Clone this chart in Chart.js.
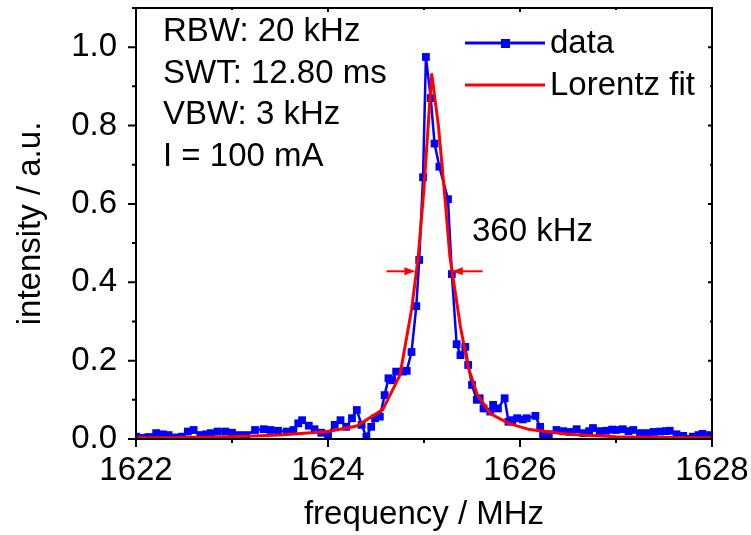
<!DOCTYPE html>
<html>
<head>
<meta charset="utf-8">
<script src="https://cdn.jsdelivr.net/npm/chart.js@4.4.1/dist/chart.umd.min.js"></script>
<style>
html,body{margin:0;padding:0;background:#fff;}
#wrap{width:751px;height:535px;}
</style>
</head>
<body>
<div id="wrap"><canvas id="c" width="751" height="535"></canvas></div>
<script>
// ---- data ----
const dataFreq = [1622.00,1622.06,1622.13,1622.21,1622.28,1622.34,1622.42,1622.48,1622.54,1622.60,
  1622.67,1622.73,1622.78,1622.85,1622.93,1623.00,1623.08,1623.15,1623.24,1623.33,
  1623.40,1623.48,1623.57,1623.64,1623.69,1623.73,1623.80,1623.86,1623.93,1624.00,
  1624.07,1624.13,1624.19,1624.25,1624.30,1624.35,1624.40,1624.45,1624.49,1624.54,
  1624.59,1624.63,1624.67,1624.71,1624.78,1624.82,1624.87,1624.92,1624.95,1624.99,
  1625.02,1625.07,1625.11,1625.16,1625.25,1625.29,1625.34,1625.38,1625.43,1625.46,
  1625.50,1625.55,1625.58,1625.62,1625.69,1625.72,1625.77,1625.84,1625.88,1625.92,
  1625.97,1626.03,1626.07,1626.16,1626.21,1626.24,1626.30,1626.38,1626.45,1626.52,
  1626.59,1626.66,1626.72,1626.76,1626.83,1626.90,1626.96,1627.00,1627.07,1627.13,
  1627.18,1627.25,1627.32,1627.39,1627.46,1627.52,1627.56,1627.63,1627.70,1627.80,
  1627.86,1627.90,1627.98];
const dataInt = [0.006,0.003,0.005,0.015,0.012,0.010,0.004,0.006,0.019,0.023,
  0.010,0.012,0.015,0.019,0.019,0.016,0.010,0.010,0.023,0.025,
  0.023,0.021,0.019,0.023,0.040,0.048,0.034,0.025,0.016,0.012,
  0.036,0.048,0.031,0.053,0.074,0.036,0.006,0.031,0.053,0.057,
  0.112,0.155,0.150,0.172,0.172,0.174,0.222,0.339,0.457,0.668,
  0.975,0.870,0.754,0.695,0.612,0.421,0.242,0.214,0.235,0.189,
  0.138,0.100,0.104,0.078,0.070,0.087,0.078,0.104,0.044,0.048,
  0.053,0.050,0.053,0.059,0.031,0.010,0.012,0.023,0.020,0.018,
  0.025,0.015,0.020,0.028,0.020,0.021,0.024,0.023,0.025,0.020,
  0.023,0.015,0.015,0.018,0.019,0.020,0.021,0.012,0.008,0.006,
  0.010,0.013,0.010];
const fitFreq = [1622,1622.5,1623,1623.5,1624,1624.3,1624.57,1624.75,1624.87,1624.94,1625.0,1625.08,
  1625.15,1625.22,1625.27,1625.38,1625.46,1625.55,1625.69,1625.88,1626.1,1626.5,1627,1627.5,1628];
const fitInt = [0.003,0.004,0.006,0.010,0.019,0.033,0.075,0.163,0.330,0.465,0.640,0.933,
  0.800,0.610,0.465,0.286,0.184,0.116,0.065,0.040,0.024,0.012,0.006,0.004,0.003];
const xTickLabels = [1622,1624,1626,1628];
const yTickLabels = [0.0,0.2,0.4,0.6,0.8,1.0];
const infoLines = ['RBW: 20 kHz','SWT: 12.80 ms','VBW: 3 kHz','I = 100 mA'];
const widthLabel = '360 kHz';
const fwhmLevel = 0.428;
const leftArrow = [1624.61, 1624.91];
const rightArrow = [1625.61, 1625.29];

const FONT = 'Liberation Sans, Arial, sans-serif';
const BLUE = '#0000ff', RED = '#ff0000';

const decor = {
  id: 'decor',
  afterDraw(chart) {
    const {ctx, chartArea: a, scales: {x, y}} = chart;
    ctx.save();
    ctx.strokeStyle = '#000';
    ctx.lineWidth = 2;
    // frame
    ctx.strokeRect(a.left, a.top, a.right - a.left, a.bottom - a.top);
    // x ticks
    for (let v = 1622; v <= 1628; v++) {
      const px = x.getPixelForValue(v);
      const major = v % 2 === 0;
      ctx.beginPath();
      ctx.moveTo(px, a.bottom); ctx.lineTo(px, a.bottom + (major ? 8 : 4));
      ctx.moveTo(px, a.top); ctx.lineTo(px, a.top + (major ? 4 : 2));
      ctx.stroke();
    }
    for (let i = 0; i <= 11; i++) {
      const v = i / 10;
      const py = y.getPixelForValue(v);
      const major = i % 2 === 0;
      ctx.beginPath();
      ctx.moveTo(a.left, py); ctx.lineTo(a.left - (major ? 8 : 4), py);
      ctx.moveTo(a.right, py); ctx.lineTo(a.right - (major ? 4 : 2), py);
      ctx.stroke();
    }
    // info text
    ctx.fillStyle = '#000';
    ctx.font = '33px ' + FONT;
    ctx.textBaseline = 'middle';
    ctx.textAlign = 'left';
    infoLines.forEach((t, i) => ctx.fillText(t, 163, 32 + i * 41.5));
    // legend
    ctx.lineWidth = 3;
    ctx.strokeStyle = BLUE;
    ctx.beginPath(); ctx.moveTo(465, 43); ctx.lineTo(545, 43); ctx.stroke();
    ctx.fillStyle = BLUE;
    ctx.fillRect(501, 39, 9, 9);
    ctx.strokeStyle = RED;
    ctx.beginPath(); ctx.moveTo(465, 85); ctx.lineTo(545, 85); ctx.stroke();
    ctx.fillStyle = '#000';
    ctx.fillText('data', 550, 44);
    ctx.fillText('Lorentz fit', 550, 86);
    // width label
    ctx.fillText(widthLabel, 472, 232);
    // arrows
    const ay = y.getPixelForValue(fwhmLevel);
    function arrow(x0, x1) {
      const p0 = x.getPixelForValue(x0), p1 = x.getPixelForValue(x1);
      const dir = Math.sign(p1 - p0);
      ctx.strokeStyle = RED; ctx.fillStyle = RED; ctx.lineWidth = 2;
      ctx.beginPath(); ctx.moveTo(p0, ay); ctx.lineTo(p1 - dir * 6, ay); ctx.stroke();
      ctx.beginPath(); ctx.moveTo(p1, ay); ctx.lineTo(p1 - dir * 11, ay - 4);
      ctx.lineTo(p1 - dir * 11, ay + 4); ctx.closePath(); ctx.fill();
    }
    arrow(leftArrow[0], leftArrow[1]);
    arrow(rightArrow[0], rightArrow[1]);
    ctx.restore();
  }
};

new Chart(document.getElementById('c'), {
  type: 'line',
  data: {
    datasets: [
      {
        label: 'Lorentz fit',
        data: fitFreq.map((f, i) => ({x: f, y: fitInt[i]})),
        borderColor: RED, borderWidth: 3, pointRadius: 0, tension: 0, order: 0
      },
      {
        label: 'data',
        data: dataFreq.map((f, i) => ({x: f, y: dataInt[i]})),
        borderColor: BLUE, backgroundColor: BLUE, borderWidth: 2.5,
        pointStyle: 'rect', pointRadius: 5.5, pointBorderWidth: 0,
        pointBackgroundColor: BLUE, tension: 0, order: 1
      }
    ]
  },
  options: {
    responsive: false,
    animation: false,
    devicePixelRatio: 1,
    layout: {padding: {top: 8, right: 39, left: 0, bottom: 0}},
    plugins: {legend: {display: false}, tooltip: {enabled: false}},
    scales: {
      x: {
        type: 'linear', min: 1622, max: 1628,
        afterBuildTicks(s) { s.ticks = xTickLabels.map(v => ({value: v})); },
        afterFit(s) { s.height = 96; s.paddingLeft = 0; s.paddingRight = 0; },
        grid: {display: false},
        border: {display: false},
        ticks: {color: '#000', font: {family: FONT, size: 33}, padding: 4, maxRotation: 0,
          callback: v => String(v)},
        title: {display: true, text: 'frequency / MHz', color: '#000',
          font: {family: FONT, size: 33}, padding: {top: 3, bottom: 0}}
      },
      y: {
        min: 0, max: 1.1,
        afterBuildTicks(s) { s.ticks = yTickLabels.map(v => ({value: v})); },
        afterFit(s) { s.width = 136; s.paddingTop = 0; s.paddingBottom = 0; },
        grid: {display: false},
        border: {display: false},
        ticks: {color: '#000', font: {family: FONT, size: 33}, padding: 11,
          callback: v => Number(v).toFixed(1)},
        title: {display: true, text: 'intensity / a.u.', color: '#000',
          font: {family: FONT, size: 33}, padding: {top: 11, bottom: 0}}
      }
    }
  },
  plugins: [decor]
});
</script>
</body>
</html>
